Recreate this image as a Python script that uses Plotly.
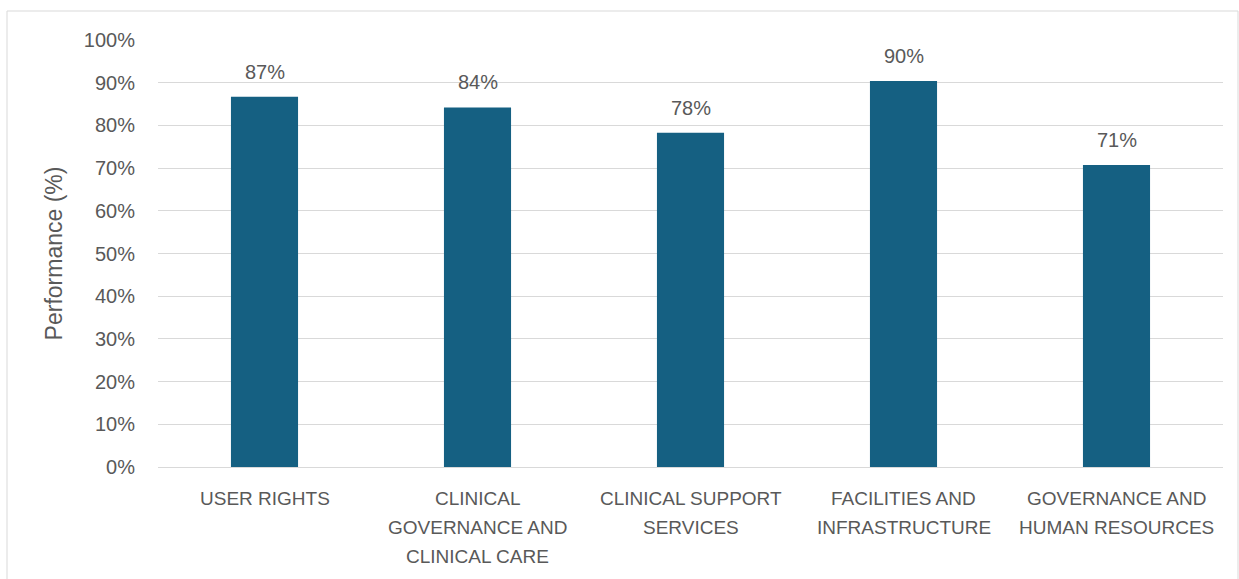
import plotly.graph_objects as go

categories = ["USER RIGHTS", "CLINICAL GOVERNANCE AND CLINICAL CARE", "CLINICAL SUPPORT SERVICES",
              "FACILITIES AND INFRASTRUCTURE", "GOVERNANCE AND HUMAN RESOURCES"]
category_lines = [["USER RIGHTS"], ["CLINICAL", "GOVERNANCE AND", "CLINICAL CARE"],
                  ["CLINICAL SUPPORT", "SERVICES"], ["FACILITIES AND", "INFRASTRUCTURE"],
                  ["GOVERNANCE AND", "HUMAN RESOURCES"]]
performance = [86.7, 84.2, 78.3, 90.4, 70.7]
y_ticks = [0, 10, 20, 30, 40, 50, 60, 70, 80, 90, 100]
y_tick_labels = [f"{t}%" for t in y_ticks]

TXT = "#595959"
BAR = "#156082"
GRID = "#d9d9d9"
FONT = "Liberation Sans, Arial, sans-serif"

W, H = 1239, 579
ml, mr, mt, mb = 158, 16, 40, 112
pw, ph = W - ml - mr, H - mt - mb

fig = go.Figure()
fig.add_trace(go.Bar(x=categories, y=performance, marker=dict(color=BAR, line=dict(width=0)),
                     hoverinfo="skip"))

for c, v in zip(categories, performance):
    fig.add_annotation(x=c, y=v, xref="x", yref="y", text=f"{v:.0f}%", showarrow=False,
                       yanchor="bottom", yshift=12, font=dict(size=20, color=TXT, family=FONT))

for c, lines in zip(categories, category_lines):
    for i, line in enumerate(lines):
        fig.add_annotation(x=c, y=0, xref="x", yref="paper", text=line, showarrow=False,
                           yanchor="middle", yshift=-(31 + 29 * i),
                           font=dict(size=19, color=TXT, family=FONT))

fig.add_shape(type="rect", xref="paper", yref="paper",
              x0=(7 - ml) / pw, x1=(1238 - ml) / pw,
              y0=(H - mb - 600) / ph, y1=(H - mb - 11) / ph,
              line=dict(color=GRID, width=1), fillcolor="rgba(0,0,0,0)", layer="below")

fig.update_layout(
    width=W, height=H,
    margin=dict(l=ml, r=mr, t=mt, b=mb),
    paper_bgcolor="white", plot_bgcolor="white",
    bargap=0.685, showlegend=False,
    font=dict(family=FONT, color=TXT),
    xaxis=dict(showgrid=False, showline=False, zeroline=False, ticks="", showticklabels=False),
    yaxis=dict(range=[0, 100], tickvals=y_ticks, ticktext=y_tick_labels,
               showgrid=True, gridcolor=GRID, gridwidth=1.3,
               zeroline=True, zerolinecolor=GRID, zerolinewidth=1.3,
               showline=False, ticks="", tickfont=dict(size=20, color=TXT, family=FONT),
               ticklabelstandoff=22,
               title=dict(text="Performance (%)", font=dict(size=23, color=TXT, family=FONT), standoff=14)),
)

fig.write_html("out.html")
